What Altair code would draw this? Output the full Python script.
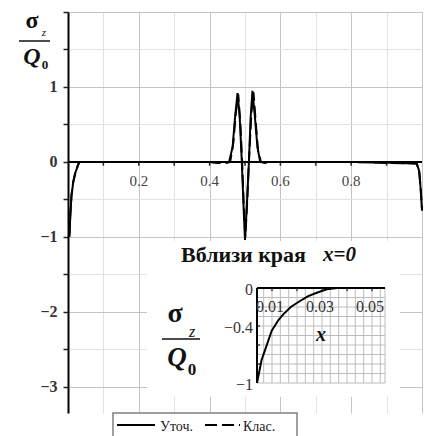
import altair as alt
import pandas as pd

SERIES = ["Уточ.", "Клас."]

# main curve, refined solution ("Уточ.")
ut_x = [0.004, 0.0065, 0.0099, 0.0145, 0.0212, 0.0279, 0.032, 0.2, 0.4, 0.455, 0.465, 0.472, 0.479, 0.485,
        0.491, 0.496, 0.500, 0.505, 0.511, 0.516, 0.521, 0.528, 0.535, 0.543, 0.6, 0.8, 0.985, 0.992, 0.996, 1.0]
ut_y = [-1.0, -0.72, -0.45, -0.277, -0.137, -0.05, 0.0, 0.0, 0.0, 0.0, 0.2, 0.6, 0.92, 0.6,
        0.0, -0.6, -1.04, -0.6, 0.0, 0.6, 0.95, 0.6, 0.2, 0.0, 0.0, 0.0, -0.02, -0.12, -0.35, -0.65]

# classical solution ("Клас.")
kl_x = [0.004, 0.0065, 0.0099, 0.0145, 0.0212, 0.0279, 0.032, 0.2, 0.4, 0.42, 0.45, 0.458, 0.467, 0.474,
        0.481, 0.487, 0.492, 0.497, 0.501, 0.506, 0.511, 0.518, 0.524, 0.530, 0.537, 0.545, 0.555, 0.57,
        0.8, 0.985, 0.992, 0.996, 1.0]
kl_y = [-0.98, -0.7, -0.44, -0.27, -0.13, -0.045, 0.0, 0.0, 0.0, -0.015, -0.012, 0.0, 0.25, 0.65,
        0.9, 0.5, 0.0, -0.65, -1.0, -0.55, 0.0, 0.65, 0.93, 0.55, 0.15, 0.0, -0.015, 0.0,
        0.0, -0.02, -0.12, -0.33, -0.62]

# inset curve near x = 0
in_x = [0.004, 0.0058, 0.0099, 0.0125, 0.0145, 0.0175, 0.0212, 0.0245, 0.0279, 0.0319, 0.036, 0.045, 0.055]
in_y = [-1.0, -0.76, -0.45, -0.34, -0.277, -0.2, -0.137, -0.085, -0.05, -0.014, 0.0, 0.0, 0.0]

x_grid_values = [0.0, 0.1, 0.2, 0.3, 0.4, 0.5, 0.6, 0.7, 0.8, 0.9, 1.0]
x_tick_values = [0.1, 0.2, 0.3, 0.4, 0.5, 0.6, 0.7, 0.8, 0.9]
x_label_values = [0.2, 0.4, 0.6, 0.8]
y_axis_values = [-3.0, -2.5, -2.0, -1.5, -1.0, -0.5, 0.0, 0.5, 1.0, 1.5, 2.0]

inset_grid_x = [0.00667, 0.01, 0.01333, 0.01667, 0.02, 0.02333, 0.02667, 0.03, 0.03333, 0.03667,
                0.04, 0.04333, 0.04667, 0.05, 0.05333, 0.0552]
inset_grid_y = [-0.1, -0.2, -0.3, -0.4, -0.5, -0.6, -0.7, -0.8, -0.9, -1.0]
inset_x_labels = [0.01, 0.03, 0.05]
inset_y_labels = [0.0, -0.4, -1.0]
inset_x_ticks = [0.01, 0.02, 0.03, 0.04, 0.05]
inset_y_ticks = [-0.2, -0.4, -0.6, -0.8]

SERIF = "Liberation Serif, Times New Roman, serif"

# ---------------- main panel ----------------
df_main = pd.concat([
    pd.DataFrame({"x": kl_x, "y": kl_y, "series": SERIES[1], "o": range(len(kl_x))}),
    pd.DataFrame({"x": ut_x, "y": ut_y, "series": SERIES[0], "o": range(len(ut_x))}),
])

xs = alt.Scale(domain=[0, 1], nice=False, zero=False)
ys = alt.Scale(domain=[-3.348, 2], nice=False, zero=False)

xax = alt.Axis(title=None, values=x_grid_values, grid=True,
               gridColor={"condition": {"test": "round(datum.value*10) % 2 === 0", "value": "#c4c4c4"},
                          "value": "#e2e2e2"},
               gridWidth=1, domain=False, ticks=False, labels=False)
yax = alt.Axis(title=None, values=y_axis_values, grid=True, format="~g",
               gridColor={"condition": {"test": "abs(datum.value % 1) < 0.01", "value": "#c4c4c4"},
                          "value": "#e2e2e2"},
               domain=True, domainColor="black", domainWidth=2,
               ticks=True, tickColor="#222", tickSize=5, tickWidth=1.5,
               labelExpr="(abs(datum.value % 1) < 0.01 && datum.value < 1.5) ? datum.label : ''",
               labelOverlap=False, labelFont=SERIF, labelFontSize=16, labelFontWeight="bold",
               labelColor="#333", labelPadding=6)

def MX(f):
    return alt.X(f, type="quantitative", scale=xs, axis=xax)

def MY(f):
    return alt.Y(f, type="quantitative", scale=ys, axis=yax)

# white background of the inset region (in main-data units)
box = pd.DataFrame({"x0": [0.223], "x1": [0.938], "y0": [-1.053], "y1": [-3.13]})
box_layer = alt.Chart(box).mark_rect(color="white").encode(
    x=MX("x0"), x2="x1", y=MY("y0"), y2="y1")

zero_df = pd.DataFrame({"x": [0.0, 1.0], "y": [0.0, 0.0]})
zero_layer = alt.Chart(zero_df).mark_line(color="black", strokeWidth=2).encode(x=MX("x"), y=MY("y"))

tick_df = pd.DataFrame({"x": x_tick_values, "y0": 0.0, "y1": -0.05})
tick_layer = alt.Chart(tick_df).mark_rule(color="#222", strokeWidth=1.5).encode(
    x=MX("x"), y=MY("y0"), y2="y1")

lab_df = pd.DataFrame({"x": x_label_values, "y": 0.0, "t": [str(v) for v in x_label_values]})
lab_layer = alt.Chart(lab_df).mark_text(font=SERIF, fontSize=15, color="#444", dy=19).encode(
    x=MX("x"), y=MY("y"), text="t:N")

lines = alt.Chart(df_main).mark_line(color="black", strokeWidth=2).encode(
    x=MX("x"), y=MY("y"), order="o:Q",
    strokeDash=alt.StrokeDash("series:N", scale=alt.Scale(domain=SERIES, range=[[1, 0], [12, 5]]),
                              legend=None))

one = pd.DataFrame({"a": [0]})

def txt(t, x, y, size, weight="normal", style="normal", align="center", color="#111"):
    return alt.Chart(one).mark_text(text=t, font=SERIF, fontSize=size, fontWeight=weight,
                                    fontStyle=style, align=align, baseline="middle",
                                    color=color).encode(x=alt.value(x), y=alt.value(y))

def bar(x0, x1, y, dash=None, width=1.5, color="#111"):
    kw = {"color": color, "strokeWidth": width}
    if dash:
        kw["strokeDash"] = dash
    return alt.Chart(one).mark_rule(**kw).encode(
        x=alt.value(x0), x2=alt.value(x1), y=alt.value(y))

main_label = [
    txt("σ", -36, 9, 24, weight="bold"),
    txt("z", -24, 21, 11, style="italic"),
    bar(-49, -18, 29),
    txt("Q", -36, 45, 24, weight="bold", style="italic"),
    txt("0", -23, 53, 13, weight="bold"),
]

# legend (drawn as a boxed key below the plot)
legend_box = alt.Chart(one).mark_rect(fill="white", stroke="#808080", strokeWidth=1.5).encode(
    x=alt.value(45), x2=alt.value(229), y=alt.value(401), y2=alt.value(432))
legend = [
    legend_box,
    bar(49, 87, 413, width=2, color="black"),
    txt(SERIES[0], 92, 415, 14, align="left", color="#222"),
    bar(137, 172, 413, dash=[12, 5], width=2, color="black"),
    txt(SERIES[1], 175, 415, 14, align="left", color="#222"),
]

main = alt.layer(box_layer, zero_layer, tick_layer, lab_layer, lines, *main_label, *legend)

# ---------------- inset ----------------
ix = alt.Scale(domain=[0.004, 0.0552], range=[189, 317], nice=False, zero=False)
iy = alt.Scale(domain=[-1, 0], range=[371, 276], nice=False, zero=False)

def IX(f):
    return alt.X(f, type="quantitative", scale=ix, axis=None)

def IY(f):
    return alt.Y(f, type="quantitative", scale=iy, axis=None)

gx_df = pd.DataFrame({"x": inset_grid_x, "y0": -1.0, "y1": 0.0})
gx_layer = alt.Chart(gx_df).mark_rule(color="#bdbdbd", strokeWidth=1).encode(x=IX("x"), y=IY("y0"), y2="y1")
gy_df = pd.DataFrame({"y": inset_grid_y, "x0": 0.004, "x1": 0.0552})
gy_layer = alt.Chart(gy_df).mark_rule(color="#bdbdbd", strokeWidth=1).encode(y=IY("y"), x=IX("x0"), x2="x1")

ax_top = pd.DataFrame({"x0": [0.004], "x1": [0.0552], "y": [0.0]})
ax_top_layer = alt.Chart(ax_top).mark_rule(color="black", strokeWidth=2).encode(x=IX("x0"), x2="x1", y=IY("y"))
ax_left = pd.DataFrame({"x": [0.004], "y0": [-1.0], "y1": [0.0]})
ax_left_layer = alt.Chart(ax_left).mark_rule(color="black", strokeWidth=2).encode(x=IX("x"), y=IY("y0"), y2="y1")

itx = pd.DataFrame({"x": inset_x_ticks, "y0": 0.0, "y1": -0.035})
itx_layer = alt.Chart(itx).mark_rule(color="#222", strokeWidth=1.2).encode(x=IX("x"), y=IY("y0"), y2="y1")
ity = pd.DataFrame({"y": inset_y_ticks, "x0": 0.004, "x1": 0.0052})
ity_layer = alt.Chart(ity).mark_rule(color="#222", strokeWidth=1.2).encode(y=IY("y"), x=IX("x0"), x2="x1")

icurve = alt.Chart(pd.DataFrame({"x": in_x, "y": in_y})).mark_line(color="black", strokeWidth=2).encode(
    x=IX("x"), y=IY("y"))

ixl = pd.DataFrame({"x": inset_x_labels, "y": 0.0, "t": [str(v) for v in inset_x_labels]})
ixl_layer = alt.Chart(ixl).mark_text(font=SERIF, fontSize=16, color="#333", dy=19, dx=-2).encode(
    x=IX("x"), y=IY("y"), text="t:N")
iyl = pd.DataFrame({"y": inset_y_labels, "x": 0.004,
                    "t": ["0", "\u22120.4", "\u22121"]})
iyl_layer = alt.Chart(iyl).mark_text(font=SERIF, fontSize=16, color="#333", dx=-4, dy=2,
                                     align="right").encode(x=IX("x"), y=IY("y"), text="t:N")

inset_text = [
    txt("Вблизи края", 113, 243, 22, weight="bold", align="left"),
    txt("x=0", 288, 243, 21, weight="bold", style="italic", align="right"),
    txt("x", 253, 323, 20, weight="bold", style="italic"),
    txt("σ", 107, 302, 28, weight="bold"),
    txt("z", 124, 320, 16, style="italic"),
    bar(94, 132, 327),
    txt("Q", 109, 346, 27, weight="bold", style="italic"),
    txt("0", 124, 358, 17, weight="bold"),
]

inset = alt.layer(gx_layer, gy_layer, icurve, ax_top_layer, ax_left_layer, itx_layer, ity_layer,
                  ixl_layer, iyl_layer, *inset_text)

chart = alt.layer(main, inset).resolve_scale(x="independent", y="independent").properties(
    width=354, height=401,
    padding={"left": 68, "top": 12, "right": 8, "bottom": 23},
    autosize=alt.AutoSizeParams(type="none"),
    background="white",
).configure_view(stroke=None)

chart.save("out.html", embed_options={"renderer": "svg", "actions": False})
